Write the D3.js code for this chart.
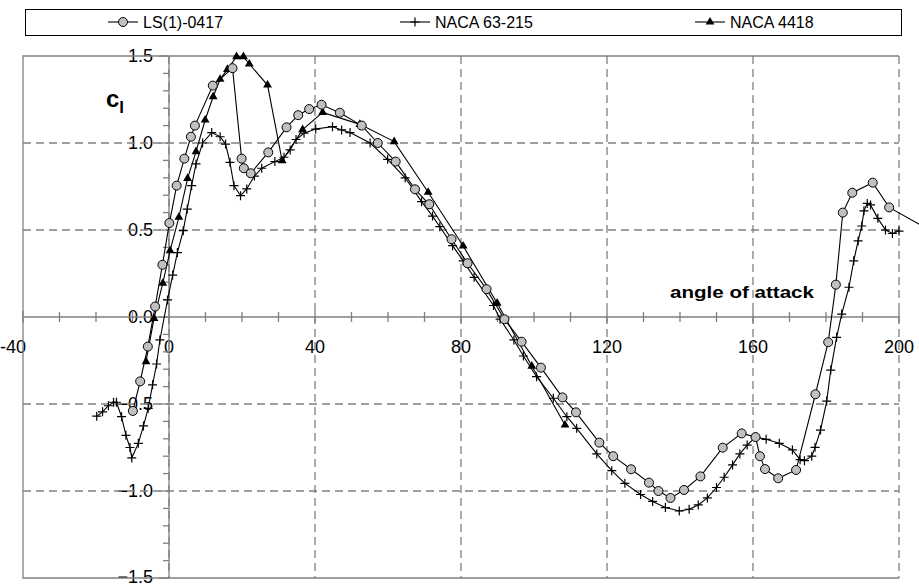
<!DOCTYPE html>
<html>
<head>
<meta charset="utf-8">
<script src="https://cdn.jsdelivr.net/npm/d3@7"></script>
<style>
  body { margin: 0; background: #fff; }
  svg { display: block; font-family: "Liberation Sans", Arial, sans-serif; }
</style>
</head>
<body>
<div id="chart"></div>
<script>
// LS(1)-0417
const lsAngle = [-9.9,-7.9,-5.8,-3.8,-1.8,0.1,2.1,4.2,6.0,7.1,12.0,17.4,19.9,20.5,22.4,27.2,32.2,35.4,38.4,41.8,
  46.8,52.8,57.2,62.1,67.4,71.3,77.4,81.8,87.0,91.9,96.6,101.9,107.8,111.5,117.9,121.7,126.6,131.5,134.1,137.4,
  141.1,145.6,151.7,156.9,160.7,161.9,163.3,166.9,171.8,177.1,180.6,182.7,184.6,187.2,192.8,197.3,207.5];
const lsCl = [-0.54,-0.37,-0.17,0.06,0.30,0.54,0.755,0.91,1.036,1.10,1.33,1.43,0.91,0.855,0.826,0.946,1.09,1.16,1.195,1.22,
  1.174,1.10,1.00,0.893,0.734,0.648,0.447,0.309,0.16,-0.013,-0.142,-0.291,-0.462,-0.548,-0.722,-0.80,-0.875,-0.952,-1.0,-1.04,
  -0.994,-0.916,-0.751,-0.669,-0.69,-0.80,-0.874,-0.927,-0.879,-0.444,-0.145,0.186,0.60,0.714,0.772,0.63,0.51];

// NACA 63-215
const n63Angle = [-19.8,-18.2,-16.6,-15.2,-14.4,-13.0,-11.8,-10.7,-10.2,-8.4,-7.0,-5.7,-4.5,-3.4,-2.5,-0.4,1.0,2.3,3.9,5.0,
  6.2,7.4,9.2,11.7,14.0,15.5,16.7,17.8,19.6,21.3,23.4,25.4,29.0,31.5,33.2,34.8,37.0,40.2,44.8,47.3,
  49.6,55.1,59.9,64.7,69.2,72.2,74.2,77.7,80.6,83.6,88.9,90.7,94.5,97.1,100.7,105.3,109.0,111.7,117.2,121.3,
  124.9,129.2,132.5,136.0,139.8,142.5,145.0,147.5,150.0,152.1,154.4,156.4,158.4,160.7,163.6,167.2,170.8,172.9,174.1,176.1,
  177.0,178.5,180.2,181.3,182.9,184.3,186.3,187.6,188.8,189.8,190.4,191.3,192.2,194.2,196.3,198.2,200.0];
const n63Cl = [-0.57,-0.545,-0.51,-0.49,-0.49,-0.573,-0.68,-0.75,-0.81,-0.726,-0.626,-0.525,-0.39,-0.27,-0.132,0.098,0.241,0.37,0.496,0.62,
  0.755,0.88,1.00,1.06,1.036,0.994,0.889,0.755,0.697,0.736,0.81,0.855,0.893,0.918,0.96,1.02,1.056,1.08,1.094,1.075,
  1.06,1.00,0.906,0.80,0.663,0.58,0.519,0.41,0.322,0.228,0.066,-0.013,-0.132,-0.224,-0.343,-0.467,-0.573,-0.64,-0.787,-0.883,
  -0.956,-1.02,-1.06,-1.095,-1.115,-1.105,-1.08,-1.04,-0.98,-0.921,-0.85,-0.787,-0.736,-0.69,-0.703,-0.726,-0.764,-0.82,-0.826,-0.80,
  -0.749,-0.65,-0.483,-0.305,-0.117,0.017,0.171,0.323,0.437,0.523,0.61,0.653,0.644,0.567,0.50,0.48,0.494];

// NACA 4418
const n44Angle = [-6.3,-4.1,-1.7,0.3,2.7,5.1,7.4,9.9,12.1,14.0,16.0,18.5,20.4,22.0,27.0,31.0,36.6,42.1,52.3,61.7,71.0,80.6,89.9,99.4,108.5];
const n44Cl = [-0.257,-0.008,0.194,0.381,0.573,0.797,0.95,1.132,1.266,1.366,1.423,1.496,1.496,1.454,1.333,0.898,1.077,1.176,1.107,1.008,0.717,0.408,0.08,-0.282,-0.621];

const seriesNames = ["LS(1)-0417", "NACA 63-215", "NACA 4418"];
const xTicks = [-40, 0, 40, 80, 120, 160, 200];
const yTicks = [-1.5, -1.0, -0.5, 0.0, 0.5, 1.0, 1.5];

const width = 919, height = 586;
const svg = d3.select("#chart").append("svg")
    .attr("width", width)
    .attr("height", height);

const x = d3.scaleLinear().domain([-40, 200]).range([23, 899]);
const y = d3.scaleLinear().domain([-1.5, 1.5]).range([578, 56]);
const grey = "#808080";

// tick labels (drawn first, grid lines go over them like in the original)
svg.selectAll("text.ylab")
    .data(yTicks)
    .enter().append("text")
    .attr("class", "ylab")
    .attr("x", 153)
    .attr("y", d => d === -1.5 ? y(d) - 1.5 : y(d))
    .attr("dy", "0.36em")
    .attr("text-anchor", "end")
    .attr("font-size", 18)
    .text(d => d3.format(".1f")(d));

svg.selectAll("text.xlab")
    .data(xTicks)
    .enter().append("text")
    .attr("class", "xlab")
    .attr("x", d => d === -40 ? 0 : x(d))
    .attr("y", y(0) + 36)
    .attr("text-anchor", d => d === -40 ? "start" : "middle")
    .attr("font-size", 18)
    .text(d => d);

// grid
svg.selectAll("line.vgrid")
    .data(xTicks.filter(d => d > -40))
    .enter().append("line")
    .attr("x1", d => x(d)).attr("x2", d => x(d))
    .attr("y1", y(1.5)).attr("y2", y(-1.5))
    .attr("stroke", grey).attr("stroke-width", 1.3)
    .attr("stroke-dasharray", "8,5");

svg.selectAll("line.hgrid")
    .data(yTicks.filter(d => d !== 0 && Math.abs(d) < 1.5))
    .enter().append("line")
    .attr("x1", x(-40)).attr("x2", x(200))
    .attr("y1", d => y(d)).attr("y2", d => y(d))
    .attr("stroke", grey).attr("stroke-width", 1.3)
    .attr("stroke-dasharray", "8,5");

// frame (top, left, bottom)
svg.append("path")
    .attr("d", `M${x(200)},${y(1.5)}H${x(-40)}V${y(-1.5)}H${x(200)}`)
    .attr("fill", "none").attr("stroke", grey).attr("stroke-width", 1.3);

// x axis at cl = 0, ticks crossing
const xAxis = svg.append("g");
xAxis.append("line")
    .attr("x1", x(-40)).attr("x2", x(200))
    .attr("y1", y(0)).attr("y2", y(0))
    .attr("stroke", grey).attr("stroke-width", 1.3);
xAxis.selectAll("line.tick")
    .data(d3.range(-40, 201, 10))
    .enter().append("line")
    .attr("x1", d => x(d)).attr("x2", d => x(d))
    .attr("y1", d => y(0) - (d % 40 === 0 ? 6 : 5))
    .attr("y2", d => y(0) + (d % 40 === 0 ? 6 : 5))
    .attr("stroke", grey).attr("stroke-width", 1.3);

// y axis at angle = 0
const yAxis = svg.append("g");
yAxis.append("line")
    .attr("x1", x(0)).attr("x2", x(0))
    .attr("y1", y(1.5)).attr("y2", y(-1.5))
    .attr("stroke", grey).attr("stroke-width", 1.3);
yAxis.selectAll("line.tick")
    .data(d3.range(-15, 16).map(d => d / 10))
    .enter().append("line")
    .attr("x1", d => x(0) - (Math.round(d * 10) % 5 === 0 ? 10 : 6))
    .attr("x2", x(0))
    .attr("y1", d => y(d)).attr("y2", d => y(d))
    .attr("stroke", grey).attr("stroke-width", 1.3);

// axis titles
svg.append("text")
    .attr("x", 670).attr("y", 298)
    .attr("font-size", 17).attr("font-weight", "bold")
    .attr("textLength", 144).attr("lengthAdjust", "spacingAndGlyphs")
    .text("angle of attack");

const cl = svg.append("text")
    .attr("x", 106).attr("y", 107)
    .attr("font-weight", "bold");
cl.append("tspan").attr("font-size", 24).text("c");
cl.append("tspan").attr("font-size", 17).attr("dy", 6).text("l");

// series
const line = d3.line().x(d => x(d[0])).y(d => y(d[1]));
const zip = (a, b) => a.map((v, i) => [v, b[i]]);

const lsData = zip(lsAngle, lsCl);
const n63Data = zip(n63Angle, n63Cl);
const n44Data = zip(n44Angle, n44Cl);

const plusPath = "M-4.5,0H4.5M0,-4.5V4.5";
const triPath = d3.symbol(d3.symbolTriangle, 34)();

function drawMarker(g, type) {
    if (type === 0) {
        g.append("circle").attr("r", 4.5)
            .attr("fill", "#c0c0c0").attr("stroke", "#000").attr("stroke-width", 1);
    } else if (type === 1) {
        g.append("path").attr("d", plusPath)
            .attr("stroke", "#000").attr("stroke-width", 1.2).attr("fill", "none");
    } else {
        g.append("path").attr("d", triPath).attr("fill", "#000");
    }
}

[n63Data, n44Data, lsData].forEach((data, k) => {
    const type = [1, 2, 0][k];
    svg.append("path")
        .datum(data)
        .attr("d", line)
        .attr("fill", "none")
        .attr("stroke", "#000")
        .attr("stroke-width", 1.1);
    svg.selectAll(null)
        .data(data)
        .enter().append("g")
        .attr("transform", d => `translate(${x(d[0])},${y(d[1])})`)
        .each(function() { drawMarker(d3.select(this), type); });
});

// legend
svg.append("rect")
    .attr("x", 25.5).attr("y", 9.5)
    .attr("width", 876).attr("height", 26)
    .attr("fill", "#fff").attr("stroke", "#000").attr("stroke-width", 1);

const legendX = [108, 400, 695];
seriesNames.forEach((name, i) => {
    const g = svg.append("g").attr("transform", `translate(${legendX[i]},22)`);
    g.append("line").attr("x1", 0).attr("x2", 30).attr("y1", 0).attr("y2", 0)
        .attr("stroke", "#000").attr("stroke-width", 1.1);
    const m = g.append("g").attr("transform", "translate(15,0)");
    drawMarker(m, i);
    g.append("text")
        .attr("x", 35).attr("y", 0).attr("dy", "0.36em")
        .attr("font-size", 16)
        .text(name);
});
</script>
</body>
</html>
